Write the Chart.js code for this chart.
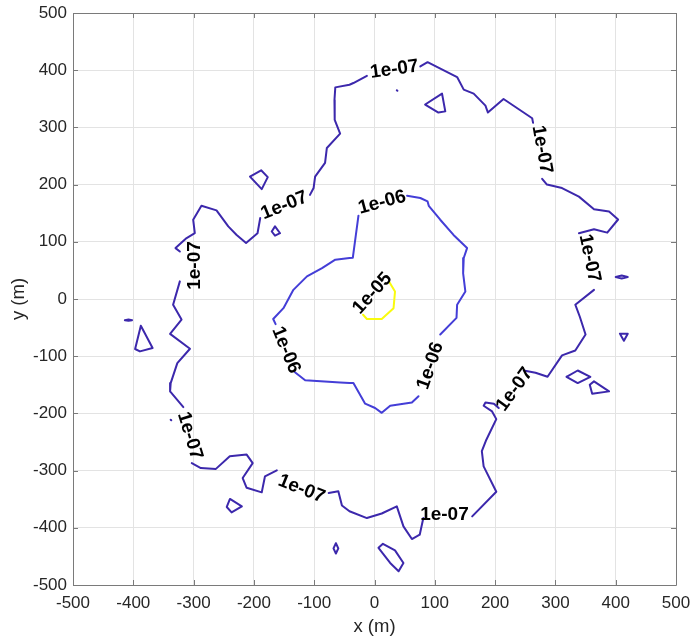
<!DOCTYPE html>
<html><head><meta charset="utf-8">
<script src="https://cdn.jsdelivr.net/npm/chart.js@4"></script>
<style>html,body{margin:0;padding:0;background:#fff}#wrap{width:691px;height:642px}</style>
</head><body><div id="wrap"><canvas id="c" width="691" height="642"></canvas></div>
<script>
// ---- data ----
const xTicks = [-500,-400,-300,-200,-100,0,100,200,300,400,500];
const yTicks = [-500,-400,-300,-200,-100,0,100,200,300,400,500];
const levelNames = ['1e-07','1e-06','1e-05'];

// 1e-07 main contour (null = gap for a label)
const outerX = [-12.6,-35,-41.5,-65,-66.4,-66,-57,-79,-82,-98.5,-101,-107,null,
 -189.5,-194,-213,-228.6,-242.5,-262,-287,-300.7,-298,-311.6,-330,-322.8,null,
 -322.8,-334,-320,-339,-306,-327,-338,-339,-317,null,
 -303,-288,-263,-240,-212,-202,-218.6,-212,-187,-181.6,-162,null,
 -76,-60,-54,-41.5,-12.6,12,37,48,62,75,81,null,
 162,202,181,178,185.5,202,195,181,184,198,206,null,
 247.5,267,287,311,333,350,340.5,333,364,null,
 339,364,386,404,389,364,339,311,286,278,null,
 263,261.5,214,188,184,164.5,148,137,88,76];
const outerY = [390,377.6,374.6,370,348,313,289,264,238,214,194,182,null,
 141.6,115,98,112,127,155,163,138.6,115,106.6,89,83,null,
 30.8,-10,-36,-61,-87,-112,-147,-161.5,-189,null,
 -287,-295.5,-297,-275,-272,-287,-313,-330,-338,-310,-299.6,null,
 -339,-336,-361,-371,-383,-375,-362.6,-397.5,-419.6,-412,-383,null,
 -380,-337,-292.6,-266,-246,-210,-196.5,-186.6,-181,-183,-190.6,null,
 -125,-129,-136,-98.6,-90,-62,-31,-10,16,null,
 115,122,116,139,153,157,179,194,200,210,null,
 308,316,349.6,326,338,359,366,388,414,406.6];

// 1e-07 small closed islands
const islandX = [-206.5,-188,-177,-187,-206.5,null,
 -170.4,-165,-156.6,-165,-170.4,null,
 84,112,117.4,106,84,null,
 37,38,null,
 400,410,420,410,400,null,
 -414,-408,-402,-408,-414,null,
 -387.5,-368,-389,-397,-387.5,null,
 -338,-337,null,
 -239.7,-220,-237,-245,-239.7,null,
 -64,-60,-64,-68,-64,null,
 407,420,413.6,407,null,
 318.4,337,358,337,318.4,null,
 357,364,389,361,357,null,
 6.6,14,34,48,40,26,6.6];
const islandY = [214,225,213,192,214,null,
 118,127,115,110.7,118,null,
 340,359,328,326,340,null,
 365,364,null,
 38.5,41,38.5,36,38.5,null,
 -37,-36,-37,-38,-37,null,
 -46.7,-85.7,-91.6,-87.4,-46.7,null,
 -211,-212,null,
 -349.6,-362.6,-373,-363.6,-349.6,null,
 -427,-436,-445,-436,-427,null,
 -60.7,-60.7,-73,-60.7,null,
 -136,-125,-136,-147,-136,null,
 -150,-144,-161.5,-165.6,-150,null,
 -435,-428,-439.5,-461.5,-476,-461.5,-435];

// 1e-06 contour
const midX = [54,76,88,90,109,131,153.5,148,147,150.7,137,136,109,null,
 73,62,26,12,1,-15.5,-35,-41.5,-57,-115,-132,null,
 -164,-168,-151,-134.5,-112,-87,-65,-41.5,-36,-26.6];
const midY = [180.6,176.6,170.6,163,138.6,112,89,71.7,45,13,-10,-33,-62,null,
 -170,-181,-186.5,-199,-190.6,-183,-147,-147,-146,-142,-128,null,
 -44,-35,-16,16,39.5,54,68.7,71.5,72,145.6];

// 1e-05 contour
const innerX = [25,34,31.6,12,-12.6,-19];
const innerY = [29,13,-16,-35,-35,-27.5];

// contour labels
const labelText  = ['1e-07','1e-07','1e-07','1e-07','1e-07','1e-07','1e-07','1e-07','1e-07','1e-06','1e-06','1e-06','1e-05'];
const labelX     = [32.7,-150,-299,-304.8,-120.6,116,231,358.3,279.4,12.3,91.2,-145.5,-4.6];
const labelY     = [403,164.9,58.6,-238.7,-330.5,-375.5,-157,71.7,261.5,170.6,-116.3,-88.6,11];
const labelAngle = [-8,-22,-90,73,22,0,-54,78,80,-15,-71,68,-48];

// ---- styles ----
const FONT = '"Liberation Sans", Arial, Helvetica, sans-serif';
const C07 = 'rgb(60,40,172)';
const C06 = 'rgb(68,62,215)';
const C05 = 'rgb(249,251,14)';
const AXIS = '#7a7a7a';
const TXT = '#262626';

function pts(xs, ys){ return xs.map((x,i)=> (x===null||ys[i]===null) ? {x:null,y:null} : {x:x,y:ys[i]}); }

const boxPlugin = {
  id: 'box',
  beforeDatasetsDraw(chart){
    const {ctx, chartArea:a, scales:{x, y}} = chart;
    ctx.save();
    ctx.strokeStyle = AXIS; ctx.lineWidth = 1;
    ctx.beginPath();
    ctx.rect(Math.round(a.left)+0.5, Math.round(a.top)+0.5, Math.round(a.right-a.left), Math.round(a.bottom-a.top));
    const L = 5;
    xTicks.forEach(v=>{ const p = Math.round(x.getPixelForValue(v))+0.5;
      ctx.moveTo(p, a.bottom); ctx.lineTo(p, a.bottom-L);
      ctx.moveTo(p, a.top); ctx.lineTo(p, a.top+L); });
    yTicks.forEach(v=>{ const p = Math.round(y.getPixelForValue(v))+0.5;
      ctx.moveTo(a.left, p); ctx.lineTo(a.left+L, p);
      ctx.moveTo(a.right, p); ctx.lineTo(a.right-L, p); });
    ctx.stroke();
    ctx.restore();
  },
  afterDatasetsDraw(chart){
    const {ctx, scales:{x, y}} = chart;
    ctx.save();
    ctx.fillStyle = '#000';
    ctx.font = 'bold 19px ' + FONT;
    ctx.textAlign = 'center'; ctx.textBaseline = 'middle';
    labelText.forEach((t,i)=>{
      ctx.save();
      ctx.translate(x.getPixelForValue(labelX[i]), y.getPixelForValue(labelY[i]));
      ctx.rotate(labelAngle[i]*Math.PI/180);
      ctx.fillText(t, 0, 1);
      ctx.restore();
    });
    ctx.restore();
  }
};

const lineDs = (label, data, color) => ({label, data, showLine:true, borderColor:color, borderWidth:2,
  pointRadius:0, pointHoverRadius:0, spanGaps:false, tension:0, borderCapStyle:'round', borderJoinStyle:'round', fill:false});

new Chart(document.getElementById('c'), {
  type: 'scatter',
  data: { datasets: [
    lineDs(levelNames[0], pts(outerX, outerY), C07),
    lineDs(levelNames[0], pts(islandX, islandY), C07),
    lineDs(levelNames[1], pts(midX, midY), C06),
    lineDs(levelNames[2], pts(innerX, innerY), C05)
  ]},
  options: {
    responsive:false, animation:false, devicePixelRatio:1,
    layout:{padding:{top:13, right:15, left:0, bottom:0}},
    plugins:{legend:{display:false}, tooltip:{enabled:false}},
    scales:{
      x:{type:'linear', min:-500, max:500,
        afterBuildTicks(s){ s.ticks = xTicks.map(v=>({value:v})); },
        afterFit(s){ s.height = 57; s.paddingLeft = 0; s.paddingRight = 0; },
        grid:{color:'#e3e3e3', drawTicks:false},
        border:{display:false},
        ticks:{padding:8, color:TXT, font:{family:FONT, size:17}, maxRotation:0, autoSkip:false},
        title:{display:true, text:'x (m)', color:TXT, font:{family:FONT, size:18.5}, padding:{top:0,bottom:4}}
      },
      y:{type:'linear', min:-500, max:500,
        afterBuildTicks(s){ s.ticks = yTicks.map(v=>({value:v})); },
        afterFit(s){ s.width = 73; s.paddingTop = 0; s.paddingBottom = 0; },
        grid:{color:'#e3e3e3', drawTicks:false},
        border:{display:false},
        ticks:{padding:6, color:TXT, font:{family:FONT, size:17}, autoSkip:false},
        title:{display:true, text:'y (m)', color:TXT, font:{family:FONT, size:18.5}, padding:{top:8,bottom:0}}
      }
    }
  },
  plugins:[boxPlugin]
});
</script></body></html>
